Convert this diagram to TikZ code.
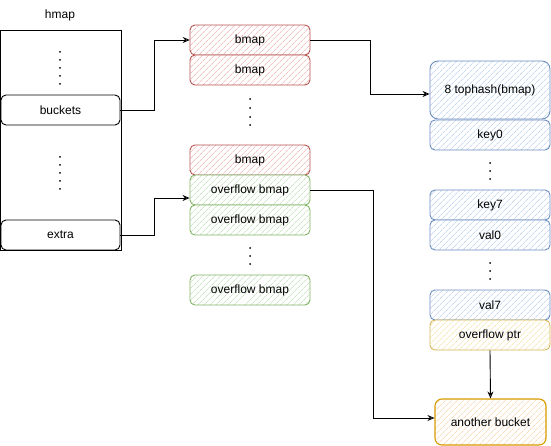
\documentclass[tikz,border=0pt]{standalone}
\usepackage{fontspec}
\setmainfont{Liberation Sans}
\usetikzlibrary{positioning}
\usetikzlibrary{arrows.meta}
\usetikzlibrary{patterns.meta}

\definecolor{redline}{HTML}{B85450}
\definecolor{redhatch}{HTML}{E9A5A2}
\definecolor{greenline}{HTML}{82B366}
\definecolor{greenhatch}{HTML}{B5D8AC}
\definecolor{blueline}{HTML}{6C8EBF}
\definecolor{bluehatch}{HTML}{AFC8EA}
\definecolor{yellowline}{HTML}{D6B656}
\definecolor{yellowhatch}{HTML}{F0DC9A}
\definecolor{orangeline}{HTML}{D79B00}
\definecolor{orangehatch}{HTML}{F4CC9C}

\tikzset{
	cell/.style = {draw, rounded corners = 5pt, minimum width = 120pt, minimum height = 30pt, inner sep = 0pt, line width = 0.9pt},
	hatched/.style = {preaction = {fill = white}, pattern = {Lines[angle = 45, distance = 4pt, line width = 0.5pt]}, pattern color = #1},
	redcell/.style = {cell, draw = redline, hatched = redhatch},
	greencell/.style = {cell, draw = greenline, hatched = greenhatch},
	bluecell/.style = {cell, draw = blueline, hatched = bluehatch},
	yellowcell/.style = {cell, draw = yellowline, hatched = yellowhatch},
	conn/.style = {line width = 0.9pt, -{Stealth[open, length = 7pt, width = 6pt]}},
	dot/.style = {fill = black, circle, inner sep = 0pt, minimum size = 2pt}
}

\begin{document}
\begin{tikzpicture}[x = 1pt, y = -1pt, font = \fontsize{12}{14}\selectfont]
		\useasboundingbox (0, 0) rectangle (551, 446);

		% hmap
		\node (title) at (60, 15) {hmap};
		\node (hmap) [draw, line width = 0.9pt, minimum width = 121pt, minimum height = 220pt, inner sep = 0pt] at (60.5, 140) {};
		\node (buckets) [cell, draw = black, minimum width = 119pt] at (60.5, 110) {buckets};
		\node (extra) [cell, draw = black, minimum width = 119pt] at (60.5, 235) {extra};
		\foreach \y in {52, 60, 68, 76, 84} \node [dot] at (60, \y) {};
		\foreach \y in {157, 165, 173, 181, 189} \node [dot] at (60, \y) {};

		% buckets array
		\node (bmap1) [redcell] at (250, 40) {bmap};
		\node (bmap2) [redcell] at (250, 70) {bmap};
		\foreach \y in {99, 108, 117, 125} \node [dot] at (250, \y) {};
		\node (bmap3) [redcell] at (250, 160) {bmap};
		\node (ovf1) [greencell] at (250, 190) {overflow bmap};
		\node (ovf2) [greencell] at (250, 220) {overflow bmap};
		\foreach \y in {248, 256, 264} \node [dot] at (250, \y) {};
		\node (ovf3) [greencell] at (250, 290) {overflow bmap};

		% bucket layout
		\node (tophash) [bluecell, rounded corners = 8pt, minimum height = 58pt] at (490, 90) {8 tophash(bmap)};
		\node (key0) [bluecell] at (490, 135) {key0};
		\foreach \y in {163, 171, 179} \node [dot] at (490, \y) {};
		\node (key7) [bluecell] at (490, 205) {key7};
		\node (val0) [bluecell] at (490, 235) {val0};
		\foreach \y in {263, 271, 279} \node [dot] at (490, \y) {};
		\node (val7) [bluecell] at (490, 305) {val7};
		\node (ptr) [yellowcell] at (490, 335) {overflow ptr};
		\node (another) [cell, draw = orangeline, hatched = orangehatch, line width = 1.1pt, rounded corners = 7pt, minimum width = 111pt, minimum height = 46pt] at (490.5, 422) {another bucket};

		% pointers
		\draw [conn] (buckets.east) -- ++(34, 0) |- (bmap1.west);
		\draw [conn] (extra.east) -- ++(34, 0) |- ([yshift = -8pt]ovf1.west);
		\draw [conn] (bmap1.east) -- ++(60, 0) |- ([yshift = -4pt]tophash.west);
		\draw [conn] (ovf1.east) -- ++(63, 0) |- ([yshift = 4pt]another.west);
		\draw [conn] (ptr.south) -- (another.north);
	\end{tikzpicture}
\end{document}
